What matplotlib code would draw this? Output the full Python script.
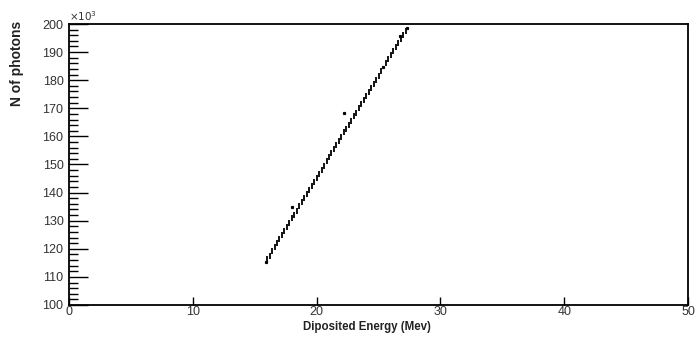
import numpy as np
import matplotlib.pyplot as plt
from matplotlib.ticker import MultipleLocator

plt.rcParams['font.family'] = ['Liberation Sans', 'DejaVu Sans']

# deposited energy (MeV) and number of photons (x10^3)
energy = [16.0, 16.2, 16.4, 16.6, 16.8, 17.0, 17.2, 17.4, 17.6, 17.8,
          18.0, 18.2, 18.4, 18.6, 18.8, 19.0, 19.2, 19.4, 19.6, 19.8,
          20.0, 20.2, 20.4, 20.6, 20.8, 21.0, 21.2, 21.4, 21.6, 21.8,
          22.0, 22.2, 22.4, 22.6, 22.8, 23.0, 23.2, 23.4, 23.6, 23.8,
          24.0, 24.2, 24.4, 24.6, 24.8, 25.0, 25.2, 25.6, 25.8, 26.0,
          26.2, 26.4, 26.6, 26.8, 27.0, 27.2]
photons = [116.3, 117.6, 119.2, 120.5, 122.0, 123.4, 124.9, 126.4, 127.8, 129.2,
           130.8, 132.1, 133.6, 135.2, 136.5, 138.0, 139.4, 141.0, 142.3, 143.8,
           145.3, 146.7, 148.2, 149.6, 151.1, 152.6, 154.0, 155.4, 157.0, 158.3,
           159.8, 161.4, 162.7, 164.2, 165.6, 167.2, 168.5, 170.0, 171.4, 172.9,
           174.5, 175.8, 177.3, 178.7, 180.2, 181.6, 183.1, 186.0, 187.5, 188.9,
           190.4, 191.8, 193.3, 194.7, 196.2, 197.6]

# a few stray single points
stray_e = [15.9, 18.0, 22.25, 25.35, 26.75, 27.3]
stray_n = [115.3, 134.9, 168.3, 184.6, 195.6, 198.4]

fig = plt.figure(figsize=(6.98, 3.39), dpi=100)
ax = fig.add_axes([0.0989, 0.1003, 0.8868, 0.8289])

ax.plot(energy, photons, linestyle='none', marker='|', markersize=5,
        markeredgewidth=1.3, color='black')
ax.plot(stray_e, stray_n, linestyle='none', marker='s', markersize=1.3,
        color='black')

ax.set_xlim(0, 50)
ax.set_ylim(100, 200)
ax.xaxis.set_major_locator(MultipleLocator(10))
ax.yaxis.set_major_locator(MultipleLocator(10))
ax.yaxis.set_minor_locator(MultipleLocator(2))

ax.tick_params(axis='both', direction='in', labelsize=9, colors='black',
               labelcolor='#333333', width=1.0)
ax.tick_params(axis='y', which='major', length=13.5, pad=4)
ax.tick_params(axis='y', which='minor', length=6.5, width=1.0, direction='in')
ax.tick_params(axis='x', which='major', length=5.5, pad=1)
ax.tick_params(top=False, right=False)

for s in ax.spines.values():
    s.set_linewidth(1.3)

ax.text(0.0, 1.005, r'$\times10^{3}$', transform=ax.transAxes, ha='left',
        va='bottom', fontsize=7.5, color='#333333')

fig.text(0.525, 0.035, 'Diposited Energy (Mev)', ha='center', va='center',
         fontsize=8.3, fontweight='bold', color='#222222')
fig.text(0.025, 1 - 21 / 339, 'N of photons', rotation=90, ha='center',
         va='top', fontsize=10, fontweight='bold', color='#222222')

fig.savefig('out.png', dpi=100)
